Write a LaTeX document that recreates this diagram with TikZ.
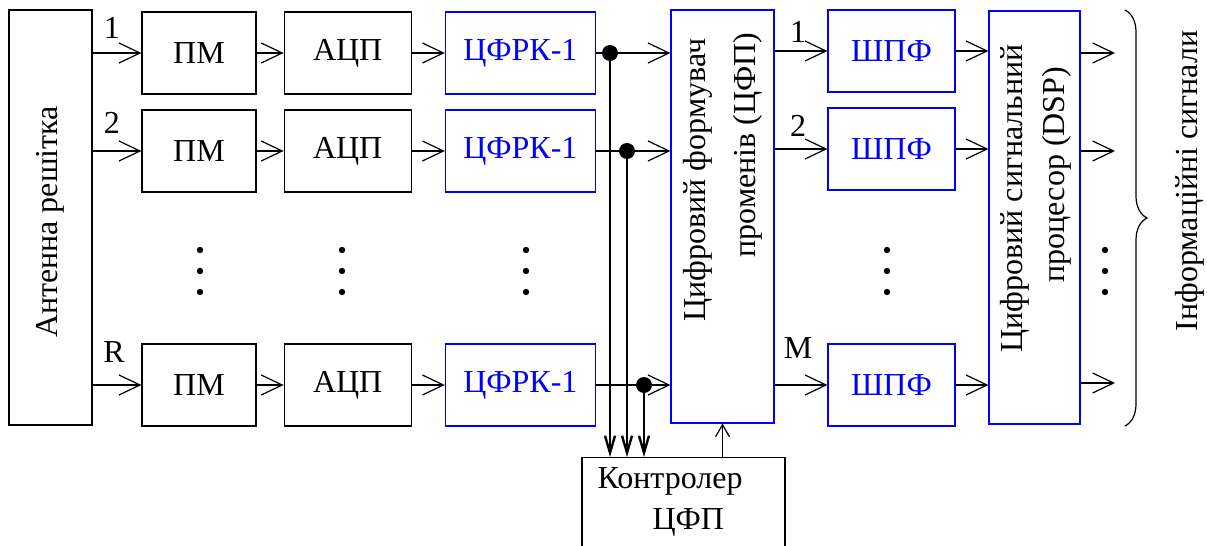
\documentclass[tikz,border=0pt]{standalone}
\usepackage{fontspec}
\setmainfont{Liberation Serif}
\usetikzlibrary{positioning, arrows.meta, decorations.pathreplacing}

\begin{document}
\begin{tikzpicture}[x=0.5pt, y=-0.5pt, line width=0.6pt, >={Straight Barb[length=10.5pt, width=10pt]},
        font=\fontsize{16}{20}\selectfont,
        block/.style={rectangle, draw=black, minimum height=41pt, inner sep=0pt},
        blueblock/.style={block, draw=blue, text=blue},
        tall/.style={rectangle, draw=blue, minimum height=206.5pt, inner sep=0pt},
        arrow/.style={->},
        bus/.style={line width=1.2pt, -{Straight Barb[length=8.5pt, width=5pt]}},
        ctrlarrow/.style={-{Straight Barb[length=6pt, width=7pt]}},
        junction/.style={circle, fill=black, inner sep=0pt, minimum size=8pt},
        lbl/.style={inner sep=0pt}]

        \useasboundingbox (0,0) rectangle (1207,546);

        % antenna array
        \node[block, minimum width=41.5pt, minimum height=207.5pt] (ant) at (50.5,217.5) {};
        \node[rotate=90, lbl] (anttext) at (50,222) {Антенна решітка};

        % channel 1
        \node[block, minimum width=57pt] (pm1) at (199,53) {ПМ};
        \node[block, minimum width=63.5pt, right=13.5pt of pm1] (adc1) {АЦП};
        \node[blueblock, minimum width=75pt, right=16.5pt of adc1] (dfr1) {ЦФРК-1};
        % channel 2
        \node[block, minimum width=57pt] (pm2) at (199,151) {ПМ};
        \node[block, minimum width=63.5pt, right=13.5pt of pm2] (adc2) {АЦП};
        \node[blueblock, minimum width=75pt, right=16.5pt of adc2] (dfr2) {ЦФРК-1};
        % channel R
        \node[block, minimum width=57pt] (pmR) at (199,385) {ПМ};
        \node[block, minimum width=63.5pt, right=13.5pt of pmR] (adcR) {АЦП};
        \node[blueblock, minimum width=75pt, right=16.5pt of adcR] (dfrR) {ЦФРК-1};

        \node[lbl] (l1) at (112,28) {1};
        \node[lbl] (l2) at (112,123) {2};
        \node[lbl] (lR) at (114,352) {R};

        % beamformer and DSP
        \node[tall, minimum width=51.5pt] (dbf) at (722.5,216.5) {};
        \node[rotate=90, align=left, anchor=west, lbl] (dbftext) at (723,322) {Цифровий формувач\\[5pt]\hspace*{32pt}променів (ЦФП)};
        \node[tall, minimum width=45.5pt] (dsp) at (1034.5,217.5) {};
        \node[rotate=90, align=left, anchor=west, lbl] (dsptext) at (1036,353) {Цифровий сигнальний\\[1pt]\hspace*{35pt}процесор (DSP)};

        \node[blueblock, minimum width=63.5pt] (bpf1) at (891.5,51) {ШПФ};
        \node[blueblock, minimum width=63.5pt] (bpf2) at (891.5,149) {ШПФ};
        \node[blueblock, minimum width=63.5pt] (bpfM) at (891.5,385) {ШПФ};

        \node[lbl] (o1) at (798,32) {1};
        \node[lbl] (o2) at (798,126) {2};
        \node[lbl] (oM) at (798,348) {M};

        % controller
        \node[block, minimum width=101.5pt, minimum height=50pt, anchor=north] (ctrl) at (683.5,457) {};
        \node[align=left, anchor=north west, lbl] (ctrltext) at (597,467) {Контролер\\[0.5pt]\hspace*{27.5pt}ЦФП};

        \node[junction] (j1) at (610,53) {};
        \node[junction] (j2) at (627,151) {};
        \node[junction] (jR) at (644,385) {};

        \coordinate (out1) at (1115,53);
        \coordinate (out2) at (1115,151);
        \coordinate (outM) at (1115,383);

        % ellipsis dots
        \foreach \x in {200,342,526,887,1105}
            \foreach \y in {250,271,292}
                \fill (\x,\y) circle (1.6pt);

        \draw[arrow] (ant.east |- pm1.west) -- (pm1.west);
        \draw[arrow] (ant.east |- pm2.west) -- (pm2.west);
        \draw[arrow] (ant.east |- pmR.west) -- (pmR.west);
        \draw[arrow] (pm1) -- (adc1);
        \draw[arrow] (pm2) -- (adc2);
        \draw[arrow] (pmR) -- (adcR);
        \draw[arrow] (adc1) -- (dfr1);
        \draw[arrow] (adc2) -- (dfr2);
        \draw[arrow] (adcR) -- (dfrR);
        \draw[arrow] (dfr1.east) -- (dfr1.east -| dbf.west);
        \draw[arrow] (dfr2.east) -- (dfr2.east -| dbf.west);
        \draw[arrow] (dfrR.east) -- (dfrR.east -| dbf.west);

        \draw[bus] (j1.center) -- (j1 |- ctrl.north);
        \draw[bus] (j2.center) -- (j2 |- ctrl.north);
        \draw[bus] (jR.center) -- (jR |- ctrl.north);
        \draw[ctrlarrow] (ctrl.north -| dbf.south) -- (dbf.south);

        \draw[arrow] (dbf.east |- bpf1.west) -- (bpf1.west);
        \draw[arrow] (dbf.east |- bpf2.west) -- (bpf2.west);
        \draw[arrow] (dbf.east |- bpfM.west) -- (bpfM.west);
        \draw[arrow] (bpf1.east) -- (bpf1.east -| dsp.west);
        \draw[arrow] (bpf2.east) -- (bpf2.east -| dsp.west);
        \draw[arrow] (bpfM.east) -- (bpfM.east -| dsp.west);
        \draw[arrow] (dsp.east |- out1) -- (out1);
        \draw[arrow] (dsp.east |- out2) -- (out2);
        \draw[arrow] (dsp.east |- outM) -- (outM);

        % output signals
        \coordinate (brtop) at (1125,10);
        \coordinate (brbot) at (1125,426);
        \draw[decorate, decoration={brace, amplitude=11pt}] (brtop) -- (brbot);
        \node[rotate=90, lbl] (info) at (1190,181) {Інформаційні сигнали};
    \end{tikzpicture}
\end{document}
